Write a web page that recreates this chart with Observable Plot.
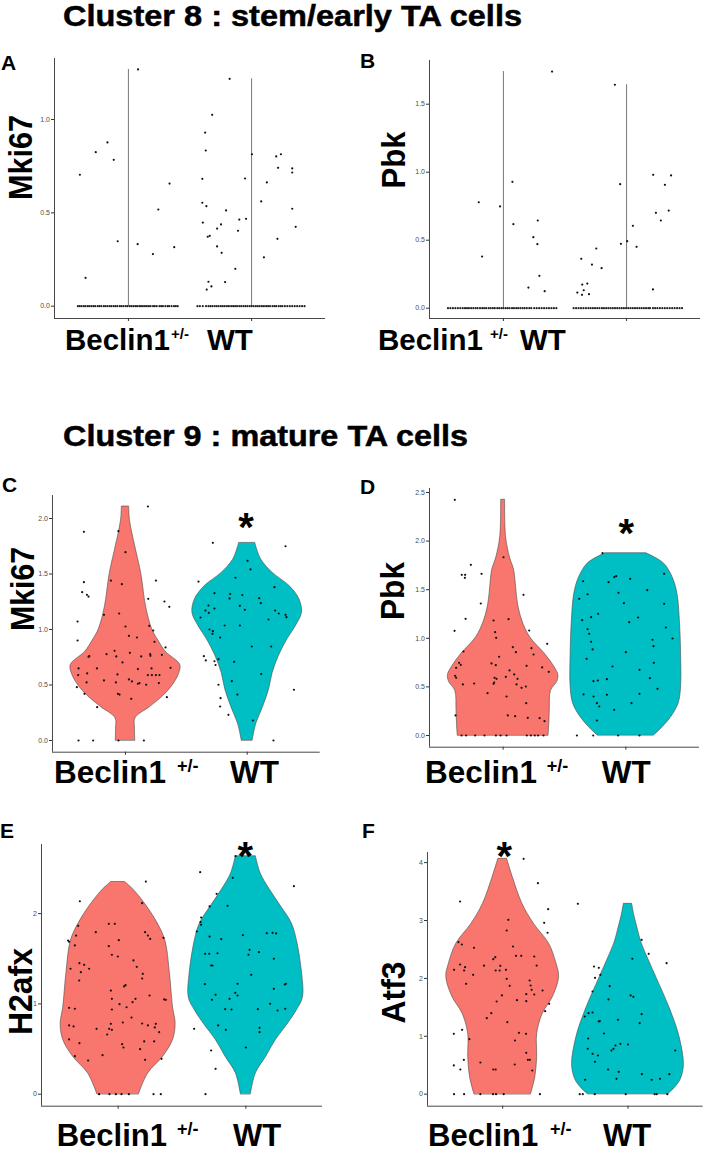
<!DOCTYPE html>
<html><head><meta charset="utf-8">
<script src="https://cdn.jsdelivr.net/npm/d3@7"></script>
<script src="https://cdn.jsdelivr.net/npm/@observablehq/plot@0.6"></script>
<style>
body{margin:0;background:#fff;}
#fig{position:relative;width:705px;height:1155px;overflow:hidden;background:#fff;font-family:"Liberation Sans",Arial,sans-serif;}
#fig svg.plot{position:absolute;overflow:visible;}
#overlay{position:absolute;left:0;top:0;pointer-events:none;}
</style></head><body><div id="fig"></div>
<script>
// ---------- data ----------
const groups = ["Beclin1", "WT"];
const genes = ["Mki67", "Pbk", "Mki67", "Pbk", "H2afx", "Atf3"];
const panelLetters = ["A", "B", "C", "D", "E", "F"];
const titles = ["Cluster 8 : stem/early TA cells", "Cluster 9 : mature TA cells"];

// points: [jitter offset in category units, expression value]
const aBeclin = [[-0.394,0.704],[-0.348,0.152],[-0.265,0.825],[-0.17,0.877],[-0.119,0.784],[-0.087,0.348],[0.078,1.268],[0.075,0.332],[0.199,0.279],[0.243,0.518],[0.334,0.657],[0.372,0.316]];
const aWT = [[-0.178,1.218],[-0.32,1.025],[-0.377,0.930],[-0.372,0.834],[-0.4,0.682],[-0.4,0.554],[-0.367,0.536],[-0.396,0.448],[-0.34,0.377],[-0.356,0.372],[-0.28,0.416],[-0.248,0.438],[-0.28,0.32],[-0.207,0.513],[-0.243,0.286],[-0.35,0.131],[-0.326,0.106],[-0.364,0.089],[-0.215,0.129],[-0.132,0.2],[-0.1,0.464],[-0.11,0.404],[-0.045,0.468],[-0.053,0.684],[0.003,0.814],[0.078,0.561],[0.1,0.262],[0.124,0.663],[0.2,0.802],[0.238,0.814],[0.215,0.741],[0.21,0.361],[0.33,0.738],[0.33,0.716],[0.33,0.522],[0.358,0.425]];
const aBeclinZero = [-0.41,-0.395,-0.38,-0.362,-0.348,-0.33,-0.316,-0.3,-0.284,-0.27,-0.25,-0.236,-0.22,-0.2,-0.186,-0.17,-0.152,-0.138,-0.12,-0.105,-0.09,-0.07,-0.056,-0.04,-0.022,-0.008,0.01,0.024,0.04,0.056,0.07,0.088,0.102,0.118,0.134,0.15,0.166,0.18,0.2,0.214,0.23,0.252,0.266,0.28,0.3,0.318,0.33,0.35,0.37,0.385,0.4];
const aWTZero = [-0.44,-0.42,-0.396,-0.37,-0.35,-0.334,-0.318,-0.3,-0.284,-0.268,-0.25,-0.234,-0.218,-0.2,-0.184,-0.166,-0.15,-0.134,-0.118,-0.1,-0.084,-0.066,-0.05,-0.034,-0.016,0,0.016,0.034,0.05,0.066,0.084,0.1,0.118,0.134,0.15,0.17,0.186,0.2,0.22,0.236,0.25,0.27,0.29,0.31,0.33,0.35,0.37,0.39,0.41,0.43];

const bBeclin = [[-0.2,0.779],[-0.173,0.38],[-0.027,0.748],[0.073,0.929],[0.081,0.618],[0.203,0.152],[0.243,0.522],[0.279,0.645],[0.276,0.471],[0.292,0.238],[0.335,0.125],[0.395,1.74]];
const bWT = [[-0.095,1.643],[-0.368,0.363],[-0.4,0.115],[-0.36,0.174],[-0.348,0.132],[-0.362,0.098],[-0.319,0.181],[-0.305,0.103],[-0.281,0.321],[-0.246,0.439],[-0.203,0.294],[-0.052,0.912],[-0.046,0.473],[0.005,0.493],[0.051,0.606],[0.081,0.451],[0.216,0.981],[0.238,0.701],[0.311,0.907],[0.278,0.645],[0.342,0.718],[0.361,0.976],[0.214,0.138]];
const bBeclinZero = [-0.45,-0.43,-0.41,-0.39,-0.37,-0.35,-0.33,-0.312,-0.296,-0.28,-0.262,-0.244,-0.226,-0.21,-0.19,-0.172,-0.156,-0.14,-0.12,-0.104,-0.086,-0.07,-0.05,-0.034,-0.016,0,0.018,0.034,0.05,0.07,0.086,0.104,0.12,0.138,0.156,0.172,0.19,0.21,0.226,0.25,0.27,0.29,0.31,0.33,0.35,0.37,0.39,0.41,0.43];
const bWTZero = [-0.43,-0.41,-0.39,-0.37,-0.35,-0.33,-0.31,-0.292,-0.274,-0.256,-0.238,-0.22,-0.2,-0.184,-0.166,-0.148,-0.13,-0.112,-0.094,-0.076,-0.058,-0.04,-0.022,-0.004,0.014,0.032,0.05,0.068,0.086,0.104,0.122,0.14,0.158,0.176,0.19,0.214,0.232,0.25,0.27,0.29,0.31,0.33,0.35,0.37,0.39,0.41,0.43,0.45];

const cBeclin = [[0.184,2.108],[-0.342,1.88],[-0.058,1.886],[0,1.697],[-0.342,1.426],[-0.356,1.336],[-0.317,1.312],[-0.304,1.297],[-0.12,1.441],[-0.03,1.408],[0.25,1.441],[0.187,1.276],[0.32,1.252],[0.36,1.204],[-0.394,1.072],[-0.394,0.901],[-0.177,1.132],[-0.052,1.144],[0,1.027],[0.028,0.943],[0.094,0.928],[0.195,1.033],[0.228,0.991],[0.238,0.889],[0.329,0.838],[0.299,0.772],[0.37,0.655],[-0.298,0.76],[-0.304,0.754],[-0.156,0.778],[-0.09,0.808],[-0.076,0.757],[-0.025,0.703],[0.036,0.79],[0.129,0.757],[0.203,0.778],[0.205,0.763],[-0.386,0.649],[-0.235,0.649],[-0.315,0.604],[-0.389,0.589],[-0.066,0.595],[0.102,0.643],[0.214,0.649],[0.184,0.589],[0.217,0.589],[0.25,0.589],[0.279,0.589],[-0.32,0.523],[-0.177,0.541],[-0.079,0.523],[0.028,0.55],[0.053,0.532],[0.102,0.511],[0.115,0.517],[0.17,0.502],[0.274,0.517],[-0.4,0.48],[-0.337,0.42],[-0.233,0.3],[-0.062,0.42],[-0.049,0.414],[0.047,0.375],[0.34,0.39],[-0.386,0],[-0.266,0],[-0.058,0],[0.151,0]];
const cWT = [[-0.282,1.781],[0.315,1.75],[0.003,1.619],[0.027,1.541],[-0.4,1.432],[-0.096,1.466],[0.224,1.381],[-0.269,1.327],[-0.14,1.32],[-0.145,1.28],[-0.04,1.31],[0.099,1.282],[0.112,1.237],[-0.343,1.171],[-0.318,1.216],[-0.315,1.15],[-0.384,1.108],[-0.269,1.189],[-0.06,1.213],[-0.019,1.177],[0.23,1.171],[0.26,1.144],[0.315,1.132],[0.323,1.111],[-0.186,1.036],[-0.06,1.036],[0.175,1.09],[-0.31,1.0],[-0.282,0.985],[-0.285,0.961],[-0.222,0.928],[0.038,0.847],[0.197,0.847],[-0.356,0.76],[-0.34,0.721],[-0.269,0.714],[-0.26,0.68],[-0.236,0.733],[-0.107,0.709],[0.115,0.598],[-0.126,0.534],[-0.236,0.502],[0.384,0.457],[-0.219,0.381],[-0.222,0.306],[-0.154,0.231],[-0.08,0.414],[0.047,0.18],[0.216,0]];

const dBeclin = [[-0.394,2.425],[0.003,1.834],[-0.263,1.756],[-0.337,1.653],[-0.31,1.653],[-0.312,1.622],[-0.176,1.663],[0.166,1.447],[-0.182,1.358],[-0.306,1.2],[-0.078,1.183],[0.044,1.197],[-0.396,1.077],[-0.065,1.063],[-0.057,1.005],[0.212,1.08],[-0.323,0.864],[0.079,0.909],[0.104,0.857],[0.231,0.898],[0.248,0.833],[0.359,0.943],[-0.033,0.81],[-0.359,0.748],[-0.345,0.727],[-0.383,0.696],[-0.095,0.741],[-0.06,0.723],[0.191,0.717],[0.318,0.7],[0.372,0.655],[0.052,0.669],[-0.391,0.614],[-0.383,0.594],[-0.07,0.594],[-0.054,0.583],[0.022,0.604],[0.09,0.628],[0.117,0.583],[-0.328,0.525],[-0.236,0.535],[-0.078,0.532],[-0.073,0.545],[0.109,0.525],[0.15,0.49],[0.185,0.504],[-0.127,0.435],[0.028,0.401],[0.188,0.332],[-0.388,0.206],[0.038,0.206],[0.098,0.199],[0.201,0.182],[0.297,0.178],[0.337,0.147],[-0.339,0],[-0.302,0],[-0.228,0],[-0.152,0],[-0.059,0],[-0.021,0],[0.028,0],[0.193,0],[0.226,0],[0.258,0],[0.285,0],[0.329,0]];
const dWT = [[-0.19,1.876],[-0.348,1.587],[-0.141,1.577],[-0.095,1.629],[-0.079,1.639],[0.035,1.611],[0.312,1.663],[-0.38,1.406],[-0.312,1.453],[-0.06,1.468],[0.174,1.495],[-0.016,1.361],[0.312,1.355],[-0.356,1.186],[-0.283,1.217],[-0.226,1.252],[0.1,1.214],[0.027,1.166],[0.326,1.111],[-0.312,1.094],[-0.299,1.046],[-0.283,0.964],[-0.271,0.885],[0.217,0.985],[0.225,0.919],[0.38,0.998],[0,0.857],[-0.32,0.789],[-0.109,0.71],[0.228,0.748],[0.111,0.676],[-0.264,0.559],[-0.228,0.566],[-0.155,0.579],[0.196,0.59],[0.258,0.48],[-0.345,0.422],[-0.263,0.401],[-0.155,0.419],[-0.236,0.332],[-0.217,0.298],[-0.095,0.264],[0.046,0.332],[0.111,0.429],[-0.236,0.154],[-0.399,0],[-0.266,0],[-0.063,0],[0.111,0]];

const eBeclin = [[0.217,2.355],[-0.3,2.137],[0.188,2.115],[-0.313,1.865],[-0.073,1.887],[-0.026,1.887],[-0.175,1.794],[-0.392,1.702],[-0.384,1.688],[-0.329,1.757],[-0.339,1.647],[0.005,1.706],[0.211,1.794],[0.233,1.757],[0.251,1.72],[0.355,1.732],[-0.073,1.639],[-0.049,1.544],[-0.002,1.525],[0.12,1.481],[0.146,1.411],[-0.303,1.451],[-0.266,1.433],[-0.227,1.389],[-0.373,1.389],[-0.292,1.351],[0.193,1.333],[0.188,1.281],[-0.305,1.259],[0.058,1.207],[0.047,1.193],[-0.057,1.148],[-0.049,1.056],[-0.049,0.938],[0.136,1.056],[0.113,1.019],[0.246,1.093],[0.36,1.049],[0.373,1.045],[0.011,0.997],[0.066,0.963],[-0.384,0.957],[-0.339,0.946],[0.105,0.849],[0.037,0.794],[-0.057,0.779],[-0.049,0.713],[0.188,0.783],[0.233,0.761],[0.295,0.779],[0.287,0.739],[0.321,0.687],[-0.384,0.761],[-0.349,0.75],[-0.169,0.724],[-0.086,0.661],[-0.07,0.724],[-0.384,0.606],[-0.303,0.565],[0.031,0.554],[0.042,0.517],[0.204,0.584],[0.282,0.584],[0.172,0.498],[-0.122,0.432],[-0.339,0.421],[-0.235,0.373],[0.211,0.381],[0.34,0.392],[-0.149,0],[-0.068,0],[-0.018,0],[0.026,0],[0.084,0],[0.277,0],[0.334,0]];
const eWT = [[-0.358,2.459],[-0.081,2.636],[-0.102,2.396],[0.376,2.304],[-0.229,2.219],[-0.284,2.079],[-0.143,2.086],[-0.35,1.957],[-0.355,1.905],[-0.35,1.876],[-0.384,1.802],[-0.284,1.746],[-0.193,1.717],[-0.023,1.761],[0.164,1.783],[0.209,1.787],[0.237,1.78],[-0.319,1.555],[-0.287,1.555],[-0.222,1.561],[0.029,1.599],[0.021,1.544],[0.102,1.573],[0.219,1.5],[-0.272,1.425],[-0.261,1.425],[0.042,1.322],[-0.321,1.218],[-0.065,1.222],[-0.083,1.123],[-0.065,1.093],[-0.237,1.101],[-0.266,1.045],[-0.128,1.056],[0.219,1.167],[0.313,1.222],[0.305,1.215],[0.19,1.001],[-0.162,0.941],[-0.112,0.938],[0.094,0.941],[0.248,0.927],[0.308,0.946],[-0.217,0.761],[-0.157,0.713],[-0.405,0.724],[0.107,0.735],[0.107,0.687],[0,0.517],[-0.272,0.484],[-0.237,0.281],[-0.316,0]];

const fBeclin = [[0.167,4.065],[0.281,3.644],[-0.34,3.328],[0.045,3.012],[0.363,3.195],[0.331,2.96],[0.358,2.788],[0.032,2.827],[-0.353,2.625],[-0.326,2.585],[-0.229,2.529],[0.082,2.551],[0.106,2.39],[0.148,2.39],[0.252,2.378],[-0.075,2.332],[-0.059,2.366],[-0.149,2.22],[-0.34,2.24],[-0.3,2.193],[-0.308,2.136],[-0.388,2.148],[-0.056,2.136],[-0.024,2.136],[-0.019,2.217],[0.271,2.222],[-0.236,2.062],[0.026,2.148],[0.032,1.993],[0.215,1.964],[0.223,1.877],[0.231,1.803],[0.318,1.791],[-0.292,1.906],[0.056,1.872],[0.252,1.722],[0.188,1.727],[-0.006,1.705],[0.114,1.624],[0.188,1.606],[-0.048,1.601],[0.371,1.561],[0.339,1.434],[-0.091,1.399],[-0.127,1.313],[0.037,1.244],[-0.324,1.112],[-0.39,1.043],[0.13,1.06],[0.186,1.043],[-0.266,0.95],[0.098,0.927],[0.188,0.715],[0.201,0.594],[0.217,0.594],[-0.31,0.594],[-0.178,0.547],[0.096,0.513],[-0.39,0.496],[-0.338,0.426],[-0.075,0.426],[-0.056,0.426],[0.236,0.409],[-0.388,0],[-0.308,0],[-0.178,0],[-0.077,0],[-0.053,0],[0.008,0],[0.297,0]];
const fWT = [[-0.4,3.288],[0.109,2.666],[0.165,2.425],[0.308,2.262],[-0.271,2.205],[-0.233,2.183],[-0.22,2.062],[-0.263,2.01],[0.035,2.339],[-0.283,1.774],[-0.146,1.865],[-0.156,1.636],[0.021,1.705],[0.043,1.682],[-0.345,1.342],[-0.315,1.399],[-0.283,1.411],[0.109,1.382],[0.093,1.227],[-0.233,1.256],[-0.225,1.261],[-0.08,1.285],[-0.318,0.962],[-0.191,1.048],[0,0.858],[-0.061,0.87],[-0.1,0.841],[-0.132,0.755],[-0.116,0.784],[-0.321,0.784],[-0.283,0.698],[-0.239,0.668],[-0.263,0.559],[0.377,0.755],[-0.159,0.426],[-0.074,0.386],[0.111,0.345],[0.33,0.345],[-0.092,0.265],[-0.342,0.248],[0.189,0.248],[0.255,0.265],[-0.385,0],[-0.361,0],[-0.265,0],[-0.018,0],[0.213,0],[0.229,0],[0.314,0]];

// violin outlines: [expression value, half-width in category units]
const cVioBeclin = [[0,0.08],[0.1,0.078],[0.2,0.082],[0.3,0.2],[0.4,0.31],[0.5,0.39],[0.6,0.44],[0.68,0.45],[0.8,0.33],[0.9,0.27],[1.0,0.22],[1.2,0.17],[1.5,0.13],[1.7,0.09],[1.9,0.05],[2.0,0.035],[2.108,0.03]];
const cVioWT = [[0,0.045],[0.15,0.075],[0.3,0.13],[0.46,0.18],[0.61,0.21],[0.76,0.26],[0.91,0.33],[1.03,0.4],[1.15,0.45],[1.27,0.43],[1.39,0.35],[1.51,0.21],[1.63,0.115],[1.78,0.066]];
const dVioBeclin = [[0,0.37],[0.12,0.376],[0.26,0.38],[0.46,0.39],[0.55,0.44],[0.62,0.45],[0.7,0.42],[0.84,0.34],[1.01,0.22],[1.18,0.156],[1.36,0.12],[1.53,0.105],[1.7,0.09],[1.83,0.056],[2.04,0.024],[2.425,0.016]];
const dVioWT = [[0,0.23],[0.085,0.3],[0.19,0.37],[0.33,0.43],[0.5,0.45],[0.84,0.45],[1.18,0.44],[1.46,0.42],[1.63,0.38],[1.77,0.31],[1.875,0.167]];
const eVioBeclin = [[0,0.163],[0.23,0.235],[0.41,0.35],[0.6,0.43],[0.78,0.45],[0.96,0.43],[1.34,0.405],[1.7,0.37],[1.89,0.31],[2.07,0.23],[2.25,0.13],[2.35,0.055]];
const eVioWT = [[0,0.039],[0.23,0.078],[0.41,0.157],[0.6,0.235],[0.78,0.33],[0.93,0.4],[1.07,0.447],[1.34,0.44],[1.7,0.4],[1.89,0.36],[2.07,0.28],[2.26,0.19],[2.44,0.117],[2.635,0.078]];
const fVioBeclin = [[0,0.226],[0.29,0.26],[0.64,0.275],[1.04,0.275],[1.39,0.32],[1.675,0.4],[2.02,0.45],[2.25,0.43],[2.6,0.37],[2.94,0.25],[3.29,0.157],[3.75,0.08],[4.065,0.035]];
const fVioWT = [[0,0.32],[0.1,0.37],[0.25,0.42],[0.5,0.446],[1.0,0.41],[1.5,0.33],[2.0,0.23],[2.28,0.173],[2.6,0.11],[2.9,0.072],[3.09,0.05],[3.288,0.033]];

// y-axis ticks per panel
const ticksA = [0, 0.5, 1.0];
const ticksB = [0, 0.5, 1.0, 1.5];
const ticksC = [0, 0.5, 1.0, 1.5, 2.0];
const ticksD = [0, 0.5, 1.0, 1.5, 2.0, 2.5];
const ticksE = [0, 1, 2];
const ticksF = [0, 1, 2, 3, 4];
// significance marks: panel -> group index
const significance = {C: 2, D: 2, E: 2, F: 1};

// ---------- layout ----------
const colors = ["#F8766D", "#00BFC4"];
const panels = [
  {id:"A", left:54, right:325, top:58, bottom:318, y0:305.7, u:186.7, ticks:ticksA, fmt:d3.format(".1f"), pts:[aBeclin,aWT], zero:[aBeclinZero,aWTZero]},
  {id:"B", left:429, right:700, top:60, bottom:318, y0:307.7, u:136, ticks:ticksB, fmt:d3.format(".1f"), pts:[bBeclin,bWT], zero:[bBeclinZero,bWTZero]},
  {id:"C", left:51.7, right:319.4, top:495, bottom:751.7, y0:740, u:111, ticks:ticksC, fmt:d3.format(".1f"), pts:[cBeclin,cWT], vio:[cVioBeclin,cVioWT]},
  {id:"D", left:428.7, right:698.7, top:488, bottom:746.7, y0:735, u:97.2, ticks:ticksD, fmt:d3.format(".1f"), pts:[dBeclin,dWT], vio:[dVioBeclin,dVioWT]},
  {id:"E", left:41, right:322, top:844, bottom:1105.7, y0:1093.7, u:90.3, ticks:ticksE, fmt:d3.format("d"), pts:[eBeclin,eWT], vio:[eVioBeclin,eVioWT]},
  {id:"F", left:427.3, right:703, top:852, bottom:1105.7, y0:1093.7, u:57.9, ticks:ticksF, fmt:d3.format("d"), pts:[fBeclin,fWT], vio:[fVioBeclin,fVioWT]}
];

const fig = document.getElementById("fig");
const mL = 30, mR = 4, mT = 4, mB = 6;

panels.forEach(p => {
  const yMin = (p.y0 - p.bottom) / p.u, yMax = (p.y0 - p.top) / p.u;
  const marks = [];
  if (p.vio) {
    p.vio.forEach((v, gi) => {
      marks.push(Plot.areaX(v, {y: d => d[0], x1: d => gi + 1 - d[1], x2: d => gi + 1 + d[1],
        fill: colors[gi], stroke: "#4a4a4a", strokeWidth: 0.6, curve: "catmull-rom"}));
    });
  } else {
    p.pts.forEach((pts, gi) => {
      const mx = d3.max(pts, d => d[1]);
      marks.push(Plot.ruleX([gi + 1], {y1: 0, y2: mx, stroke: "#555", strokeWidth: 0.8}));
      marks.push(Plot.dot(p.zero[gi], {x: d => gi + 1 + d, y: 0, r: 1.1, fill: "#222", stroke: "none"}));
    });
  }
  p.pts.forEach((pts, gi) => {
    marks.push(Plot.dot(pts, {x: d => gi + 1 + d[0], y: d => d[1], r: 1.1, fill: "#111", stroke: "none"}));
  });
  marks.push(Plot.ruleX([0.4], {stroke: "#333", strokeWidth: 0.9}));
  marks.push(Plot.ruleY([yMin], {stroke: "#333", strokeWidth: 0.9}));
  marks.push(Plot.axisY({ticks: p.ticks, tickFormat: p.fmt, tickSize: 3, tickPadding: 1.5, label: null, fontSize: 7, stroke: "#333"}));
  marks.push(Plot.axisX({ticks: [1, 2], tickFormat: () => "", tickSize: 3, label: null, stroke: "#333"}));
  const svg = Plot.plot({
    width: p.right - p.left + mL + mR,
    height: p.bottom - p.top + mT + mB,
    marginLeft: mL, marginRight: mR, marginTop: mT, marginBottom: mB,
    x: {domain: [0.4, 2.6]},
    y: {domain: [yMin, yMax]},
    style: {background: "transparent", color: "#4d4d4d", fontFamily: "Liberation Sans, Arial, sans-serif"},
    marks
  });
  svg.classList.add("plot");
  svg.style.left = (p.left - mL) + "px";
  svg.style.top = (p.top - mT) + "px";
  fig.appendChild(svg);
});

// ---------- text overlay ----------
const ov = d3.select(fig).append("svg").attr("id", "overlay").attr("width", 705).attr("height", 1155)
  .style("font-family", "'Liberation Sans', Arial, sans-serif").style("font-weight", "bold");

const titlePos = [{x: 63, y: 26, len: 459}, {x: 63, y: 446, len: 405}];
titles.forEach((t, i) => ov.append("text").attr("x", titlePos[i].x).attr("y", titlePos[i].y)
  .attr("font-size", 30).attr("textLength", titlePos[i].len).attr("lengthAdjust", "spacingAndGlyphs")
  .attr("stroke", "#000").attr("stroke-width", 0.5).text(t));

const letterPos = [[1, 70], [360, 68], [2, 492], [360, 494], [0, 838], [362, 838]];
panelLetters.forEach((l, i) => ov.append("text").attr("x", letterPos[i][0]).attr("y", letterPos[i][1]).attr("font-size", 21).text(l));

const ytitlePos = [{x: 32, y: 157.5, len: 85}, {x: 405, y: 160, len: 57}, {x: 34, y: 589, len: 84},
  {x: 403.5, y: 591, len: 58}, {x: 32, y: 991.5, len: 87}, {x: 405, y: 992.5, len: 62}];
genes.forEach((g, i) => ov.append("text")
  .attr("transform", `translate(${ytitlePos[i].x},${ytitlePos[i].y}) rotate(-90)`)
  .attr("text-anchor", "middle").attr("font-size", 33)
  .attr("textLength", ytitlePos[i].len).attr("lengthAdjust", "spacingAndGlyphs").text(g));

const xlabPos = [
  {bx: 65, sx: 171, wx: 207, y: 349.5, fs: 29.5, ss: 15},
  {bx: 378, sx: 490, wx: 520, y: 349.5, fs: 29.5, ss: 15},
  {bx: 54, sx: 177, wx: 230, y: 782.7, fs: 31.5, ss: 18},
  {bx: 425, sx: 546.7, wx: 601.7, y: 783.3, fs: 31.5, ss: 18},
  {bx: 56.7, sx: 177, wx: 233, y: 1146, fs: 31, ss: 18},
  {bx: 428, sx: 550, wx: 603, y: 1146, fs: 31, ss: 18}
];
xlabPos.forEach(p => {
  ov.append("text").attr("x", p.bx).attr("y", p.y).attr("font-size", p.fs).text(groups[0]);
  ov.append("text").attr("x", p.sx).attr("y", p.y - 11).attr("font-size", p.ss).text("+/-");
  ov.append("text").attr("x", p.wx).attr("y", p.y).attr("font-size", p.fs).text(groups[1]);
});

const starPos = {C: [246, 541], D: [626.3, 547], E: [245.3, 870], F: [504.3, 870]};
Object.keys(significance).forEach(k => ov.append("text").attr("x", starPos[k][0]).attr("y", starPos[k][1])
  .attr("text-anchor", "middle").attr("font-size", 40).text("*"));
</script></body></html>
